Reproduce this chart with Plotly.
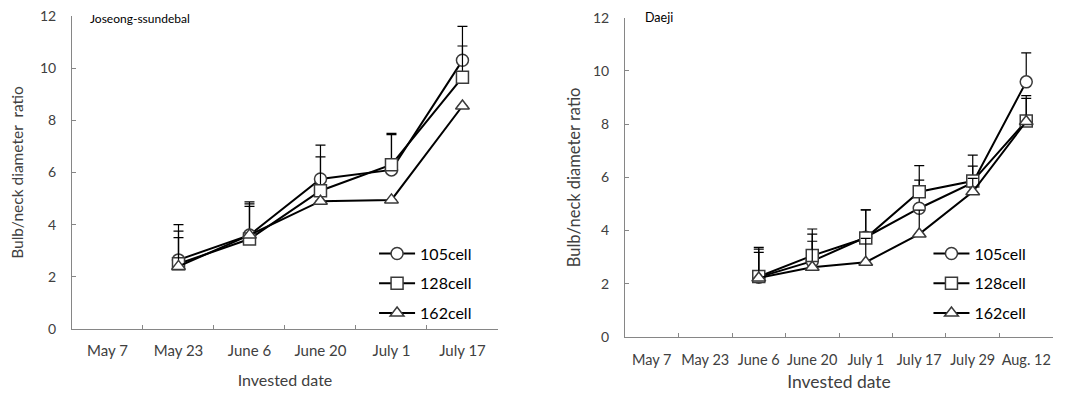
import plotly.graph_objects as go

# ---------------- data ----------------
dates_left = ["May 7", "May 23", "June 6", "June 20", "July 1", "July 17"]
obs_left = ["May 23", "June 6", "June 20", "July 1", "July 17"]
left_105 = [2.65, 3.6, 5.75, 6.1, 10.3]
left_128 = [2.5, 3.45, 5.3, 6.3, 9.65]
left_162 = [2.4, 3.6, 4.9, 4.95, 8.55]
left_105_err = [1.35, 1.27, 1.3, 1.4, 1.3]
left_128_err = [1.25, 1.35, 1.3, 1.15, 1.2]
left_162_err = [1.1, 1.1, 0.0, 0.0, 0.0]

dates_right = ["May 7", "May 23", "June 6", "June 20", "July 1", "July 17", "July 29", "Aug. 12"]
obs_right = ["June 6", "June 20", "July 1", "July 17", "July 29", "Aug. 12"]
right_105 = [2.25, 2.85, 3.75, 4.84, 5.8, 9.59]
right_128 = [2.27, 3.06, 3.72, 5.46, 5.86, 8.12]
right_162 = [2.22, 2.62, 2.81, 3.87, 5.46, 8.1]
right_105_err = [1.05, 1.02, 1.03, 1.06, 0.62, 1.09]
right_128_err = [1.1, 1.0, 1.06, 0.98, 0.98, 0.95]
right_162_err = [0.96, 0.98, 0.9, 0.9, 0.5, 0.87]

series_names = ["105cell", "128cell", "162cell"]
symbols = ["circle", "square", "triangle-up"]

FONT = "Lato, 'Open Sans', sans-serif"
TXT = "#404040"
AX = "#868686"

fig = go.Figure()

def add_panel(xs, ys_list, errs_list, xaxis, yaxis, legend):
    for name, sym, ys, errs in zip(series_names, symbols, ys_list, errs_list):
        fig.add_trace(go.Scatter(
            x=xs, y=ys, name=name, mode="lines+markers",
            xaxis=xaxis, yaxis=yaxis, legend=legend,
            legendgroup=legend + name,
            line=dict(color="black", width=2),
            marker=dict(symbol=sym, size=12, color="white",
                        line=dict(width=1.5, color="#3a3a3a")),
            error_y=dict(type="data", symmetric=False, array=errs,
                         arrayminus=[0] * len(errs), color="black",
                         thickness=1.2, width=5),
        ))

add_panel(obs_left, [left_105, left_128, left_162],
          [left_105_err, left_128_err, left_162_err], "x", "y", "legend")
add_panel(obs_right, [right_105, right_128, right_162],
          [right_105_err, right_128_err, right_162_err], "x2", "y2", "legend2")

xaxis_common = dict(
    type="category", showline=True, linecolor=AX, linewidth=1,
    ticks="inside", ticklen=4, tickcolor=AX, tickson="boundaries",
    showgrid=False, zeroline=False, fixedrange=True, automargin=False,
    tickangle=0, ticklabeloverflow="allow",
)
yaxis_common = dict(
    range=[0, 12], dtick=2, showline=True, linecolor=AX, linewidth=1,
    ticks="inside", ticklen=4, tickcolor=AX, showgrid=False, zeroline=False,
    automargin=False, ticklabelstandoff=12, ticklabeloverflow="allow",
)

# page has an 8px body margin: figure is 1058x390, drawn at (8, 8)
fig.update_layout(
    width=1058, height=390,
    margin=dict(l=0, r=0, t=0, b=0, autoexpand=False),
    plot_bgcolor="white", paper_bgcolor="white",
    font=dict(family=FONT, color=TXT),
    xaxis=dict(xaxis_common, domain=[0.0605, 0.4631], anchor="y",
               categoryorder="array", categoryarray=dates_left,
               range=[-0.5, len(dates_left) - 0.5], ticklabelstandoff=8,
               tickfont=dict(family=FONT, size=15, color=TXT),
               title=dict(text="Invested date", font=dict(size=16, family=FONT, color=TXT), standoff=16)),
    yaxis=dict(yaxis_common, domain=[0.1769, 0.9795], anchor="x",
               tickfont=dict(family=FONT, size=14, color=TXT),
               title=dict(text="Bulb/neck diameter  ratio", font=dict(size=15.5, family=FONT, color=TXT), standoff=21)),
    xaxis2=dict(xaxis_common, domain=[0.5832, 0.9877], anchor="y2",
                categoryorder="array", categoryarray=dates_right,
                range=[-0.5, len(dates_right) - 0.5], ticklabelstandoff=10,
                tickfont=dict(family=FONT, size=14.5, color=TXT),
                title=dict(text="Invested date", font=dict(size=17.5, family=FONT, color=TXT), standoff=8)),
    yaxis2=dict(yaxis_common, domain=[0.1564, 0.975], anchor="x2",
                tickfont=dict(family=FONT, size=14, color=TXT),
                title=dict(text="Bulb/neck diameter ratio", font=dict(size=16.5, family=FONT, color=TXT), standoff=8)),
    legend=dict(x=0.346, y=0.414, xanchor="left", yanchor="top",
                font=dict(family=FONT, size=16, color="black"),
                bgcolor="rgba(0,0,0,0)", tracegroupgap=6, itemwidth=36),
    legend2=dict(x=0.870, y=0.414, xanchor="left", yanchor="top",
                 font=dict(family=FONT, size=16, color="black"),
                 bgcolor="rgba(0,0,0,0)", tracegroupgap=6, itemwidth=36),
    annotations=[
        dict(text="Joseong-ssundebal", xref="paper", yref="paper", x=0.0756, y=0.974,
             xanchor="left", yanchor="middle", showarrow=False,
             font=dict(family=FONT, size=12, color="black")),
        dict(text="Daeji", xref="paper", yref="paper", x=0.600, y=0.975,
             xanchor="left", yanchor="middle", showarrow=False,
             font=dict(family=FONT, size=12.5, color="black")),
    ],
)

fig.write_html("out.html")
